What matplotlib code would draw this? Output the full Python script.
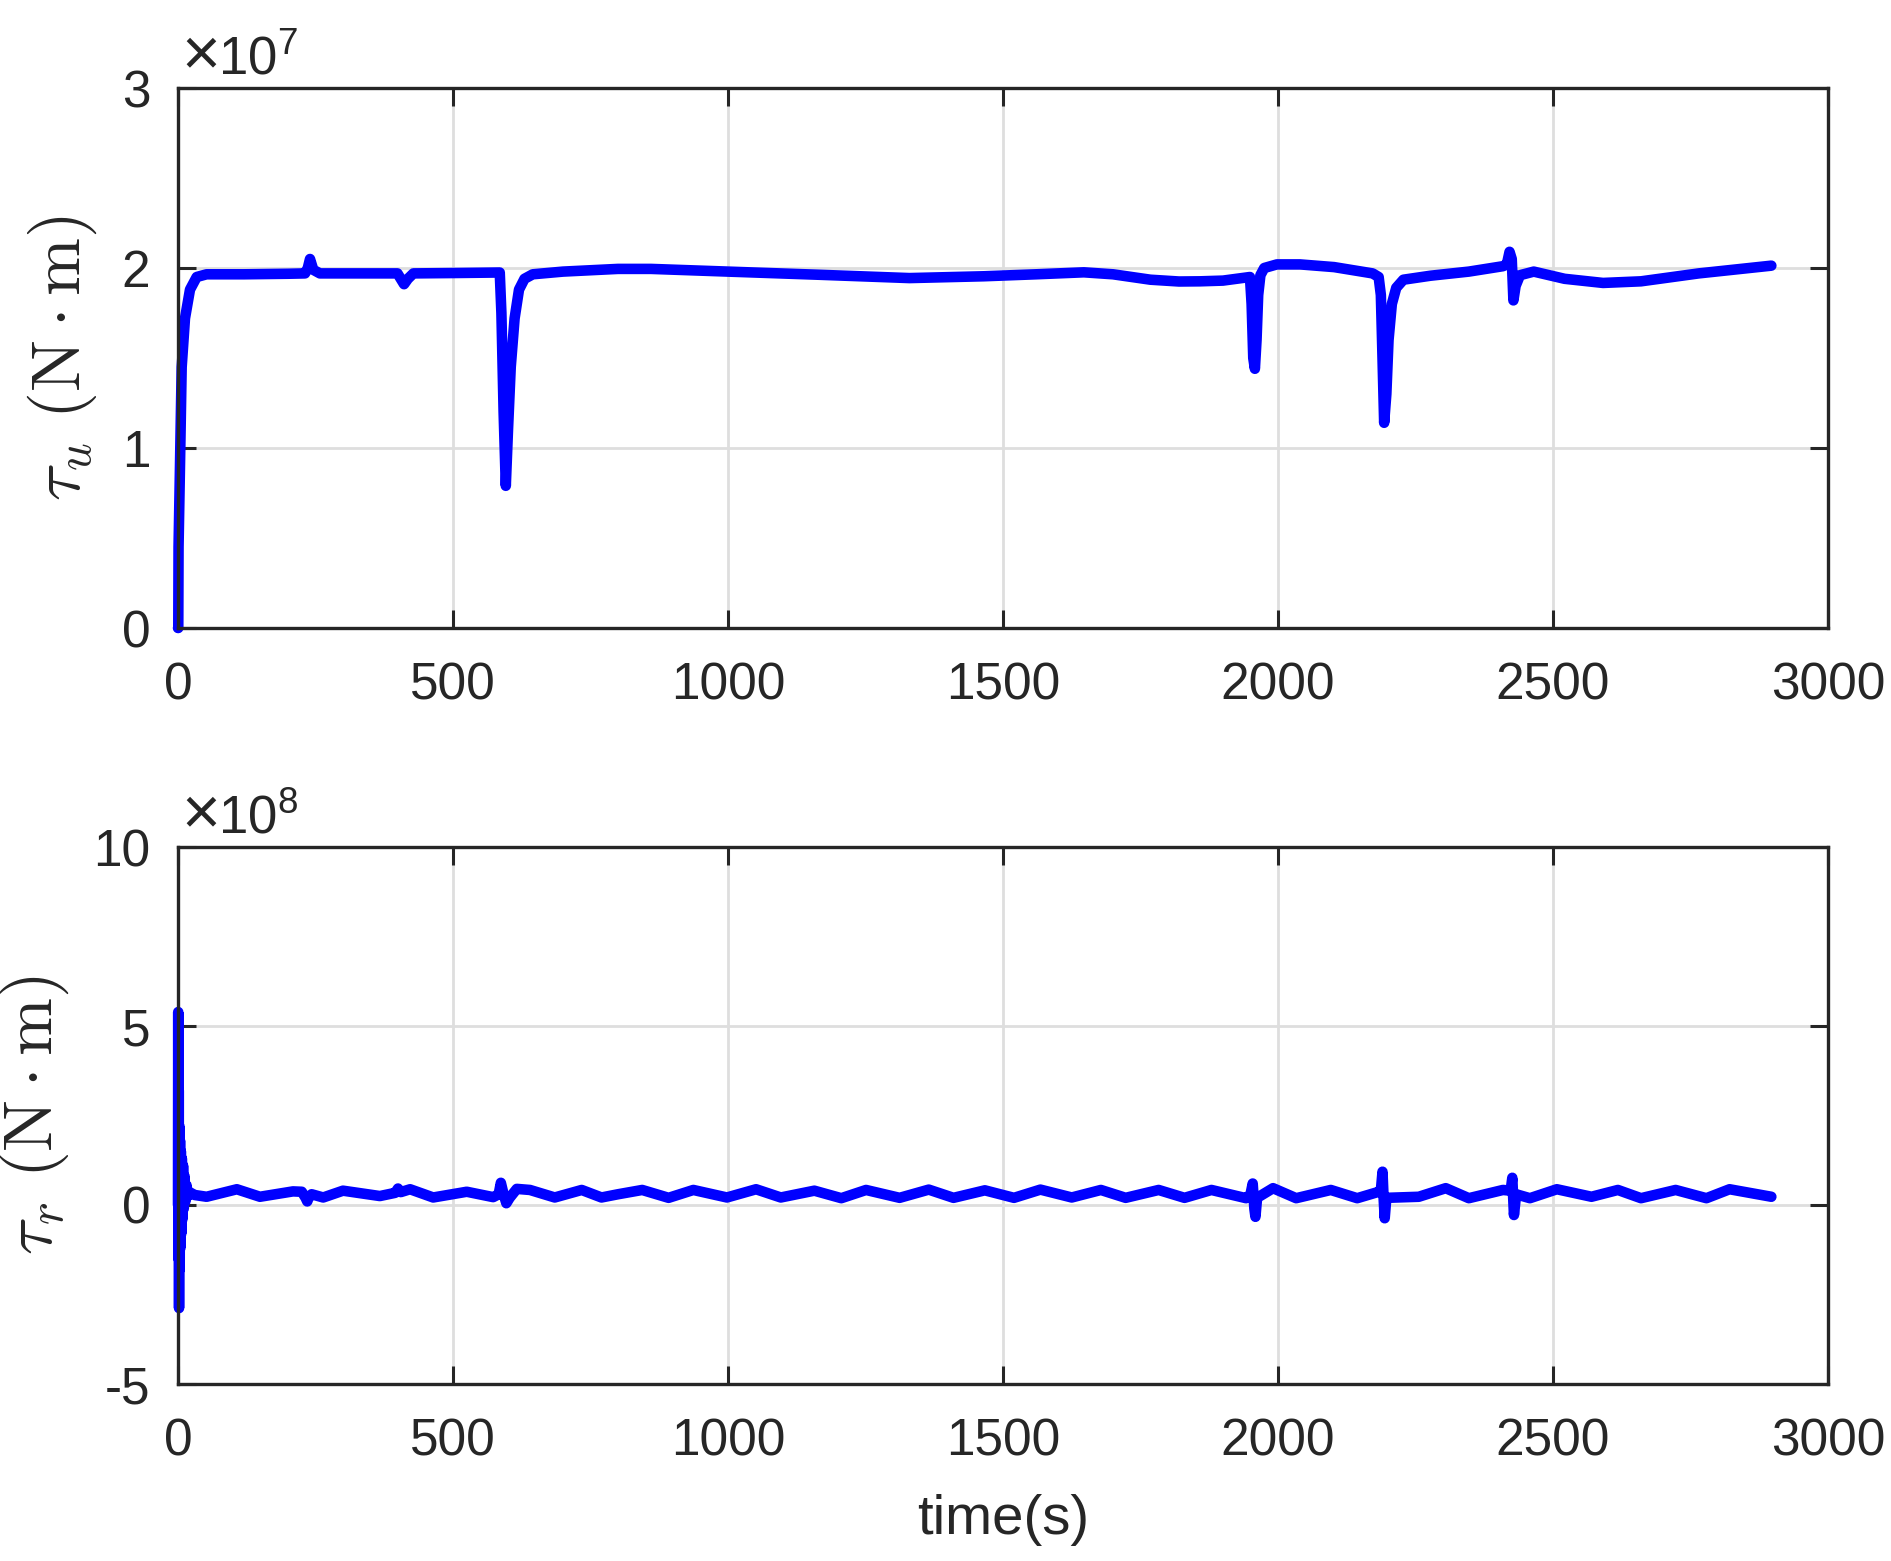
import matplotlib
matplotlib.use("Agg")
import matplotlib.pyplot as plt

plt.rcParams['font.family'] = ['Liberation Sans', 'DejaVu Sans']
plt.rcParams['mathtext.fontset'] = 'custom'
plt.rcParams['mathtext.rm'] = 'Liberation Sans'
plt.rcParams['mathtext.it'] = 'Liberation Sans:italic'

# tau_u in units of 1e7 N*m
t_u = [0, 0.5, 1, 3.6, 6.7, 12.7, 21.8, 34, 52, 120, 200, 231, 236, 240, 246, 258,
       330, 399, 405, 411, 418, 428, 500, 585, 588, 592, 596, 600, 605, 612, 620,
       630, 645, 700, 800, 860, 1000, 1160, 1330, 1465, 1560, 1647, 1700, 1768,
       1820, 1858, 1900, 1949, 1952, 1955, 1958, 1961, 1964, 1968, 1975, 1998,
       2040, 2102, 2172, 2183, 2187, 2190, 2193, 2197, 2201, 2207, 2215, 2228,
       2277, 2347, 2409, 2416, 2421, 2425, 2428, 2432, 2440, 2465, 2521, 2591,
       2660, 2765, 2897]
tau_u = [0, 0.0, 0.45, 0.9, 1.45, 1.72, 1.88, 1.95, 1.965, 1.965, 1.968, 1.97, 2.0, 2.05, 1.99, 1.97,
         1.97, 1.97, 1.94, 1.91, 1.94, 1.97, 1.972, 1.975, 1.75, 1.2, 0.79, 1.1, 1.45, 1.72, 1.88,
         1.94, 1.965, 1.98, 1.995, 1.995, 1.98, 1.963, 1.944, 1.954, 1.965, 1.976, 1.965, 1.935,
         1.925, 1.926, 1.93, 1.95, 1.8, 1.5, 1.44, 1.6, 1.85, 1.96, 2.0, 2.02,
         2.02, 2.005, 1.97, 1.95, 1.85, 1.5, 1.14, 1.3, 1.6, 1.8, 1.89, 1.935,
         1.957, 1.98, 2.01, 2.02, 2.09, 2.05, 1.82, 1.9, 1.96, 1.98, 1.94, 1.917,
         1.926, 1.97, 2.013]

# tau_r in units of 1e8 N*m
t_r = [0, 0.4, 0.9, 1.4, 1.9, 2.5, 3.1, 3.7, 4.4, 5.2, 6.0, 7.0, 8.0, 9.2, 10.5, 12,
       13.5, 15.5, 18, 22, 30, 52, 107, 149, 209, 225, 232, 235, 238, 243, 264, 300,
       367, 395, 400, 405, 422, 464, 525, 573, 583, 587, 592, 597, 603, 616, 640, 685,
       734, 770, 800, 844, 892, 937, 998, 1051, 1096, 1157, 1206, 1251, 1312, 1365,
       1410, 1467, 1520, 1568, 1625, 1678, 1723, 1783, 1830, 1879, 1942, 1950, 1954,
       1957, 1959, 1962, 1991, 2033, 2096, 2144, 2179, 2187, 2190, 2192, 2194, 2197,
       2256, 2305, 2347, 2409, 2423, 2426, 2429, 2433, 2458, 2507, 2570, 2618, 2660,
       2723, 2779, 2821, 2897]
tau_r = [0, 5.39, -1.5, 3.2, -2.88, 2.2, -1.8, 1.8, -1.2, 1.5, -0.8, 1.3, -0.4, 1.1, -0.1, 0.8,
         0.1, 0.55, 0.25, 0.35, 0.28, 0.23, 0.44, 0.23, 0.38, 0.37, 0.2, 0.1, 0.22, 0.3, 0.21, 0.40,
         0.25, 0.34, 0.46, 0.36, 0.44, 0.21, 0.37, 0.22, 0.3, 0.62, 0.3, 0.05, 0.2, 0.45, 0.42, 0.21,
         0.42, 0.21, 0.3, 0.42, 0.2, 0.42, 0.21, 0.44, 0.21, 0.40, 0.19, 0.42, 0.2, 0.43,
         0.2, 0.41, 0.2, 0.43, 0.21, 0.42, 0.2, 0.42, 0.2, 0.42, 0.19, 0.3, 0.6,
         -0.1, -0.33, 0.2, 0.47, 0.19, 0.42, 0.19, 0.35, 0.4, 0.93, 0.2, -0.37, 0.2,
         0.23, 0.47, 0.19, 0.42, 0.4, 0.76, -0.28, 0.3, 0.19, 0.44, 0.23, 0.42, 0.19,
         0.42, 0.19, 0.44, 0.23]

x_ticks = [0, 500, 1000, 1500, 2000, 2500, 3000]
u_ticks = [0, 1, 2, 3]
r_ticks = [-5, 0, 5, 10]

W, H, DPI = 1891, 1561, 200
fig = plt.figure(figsize=(W / DPI, H / DPI), dpi=DPI)
ax1 = fig.add_axes([178 / W, 1 - 628 / H, 1650 / W, 540 / H])
ax2 = fig.add_axes([178 / W, 1 - 1384 / H, 1650 / W, 537 / H])

dark = '#262626'
blue = '#0000ff'

for ax, t, v, yt, yl, ex, lab in [
        (ax1, t_u, tau_u, u_ticks, (0, 3), '7', r'$\tau_u\ (\mathrm{N \cdot m})$'),
        (ax2, t_r, tau_r, r_ticks, (-5, 10), '8', r'$\tau_r\ (\mathrm{N \cdot m})$')]:
    ax.plot(t, v, color=blue, lw=3.8, solid_joinstyle='round', solid_capstyle='round',
            zorder=3, clip_on=False)
    ax.set_xlim(0, 3000)
    ax.set_ylim(*yl)
    ax.set_xticks(x_ticks)
    ax.set_yticks(yt)
    ax.set_yticklabels([str(y) for y in yt])
    ax.grid(True, color='#dedede', lw=1.0)
    ax.set_axisbelow(True)
    ax.tick_params(direction='in', top=True, right=True, length=6.5, width=1.1,
                   labelsize=18.5, colors=dark)
    ax.tick_params(axis='x', pad=12)
    ax.tick_params(axis='y', pad=10)
    for s in ax.spines.values():
        s.set_color(dark)
        s.set_linewidth(1.2)
        s.set_zorder(4)
    ax.set_ylabel(lab, fontsize=25, color=dark, math_fontfamily='cm', labelpad=8)
    ax.text(0.002, 1.025, '×', transform=ax.transAxes,
            fontsize=24, color=dark, ha='left', va='baseline')
    ax.text(0.0245, 1.025, '10$^{' + ex + '}$', transform=ax.transAxes,
            fontsize=19, color=dark, ha='left', va='baseline')

ax2.set_xlabel('time(s)', fontsize=20.3, color=dark, labelpad=10)

fig.savefig('out.png', dpi=DPI, facecolor='white')
